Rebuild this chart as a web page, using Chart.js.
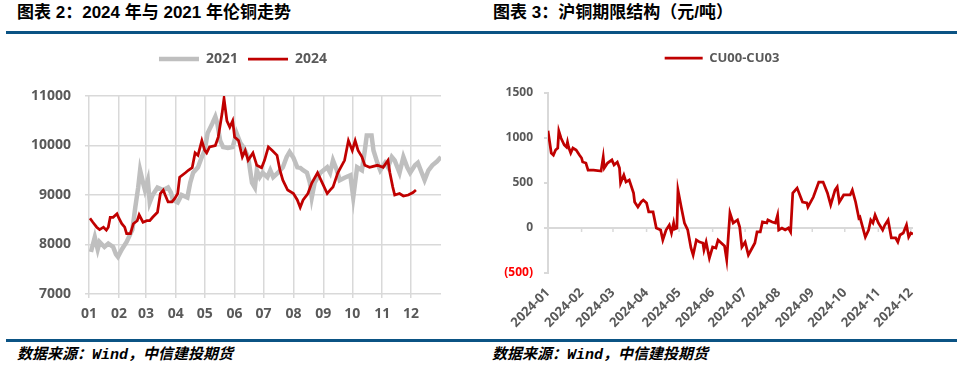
<!DOCTYPE html>
<html>
<head>
<meta charset="utf-8">
<script src="https://cdn.jsdelivr.net/npm/chart.js@4.4.1/dist/chart.umd.min.js"></script>
<style>
  body { margin: 0; width: 972px; height: 374px; background: #fff; position: relative; overflow: hidden; }
  .title { position: absolute; top: 2px; font-family: "Liberation Sans", "Noto Sans CJK SC", sans-serif; font-size: 17px; font-weight: bold; color: #000; line-height: 22px; white-space: nowrap; }
  .rule { position: absolute; height: 3px; background: #0b5384; }
  .note { position: absolute; top: 343px; font-family: "Noto Sans CJK SC", sans-serif; font-size: 15px; font-weight: bold; font-style: italic; line-height: 20px; white-space: nowrap; color: #000; }
  .note .en { font-family: "Liberation Mono", monospace; }
  canvas { position: absolute; top: 40px; }
</style>
</head>
<body>
<div class="title" style="left:17px">图表 2：2024 年与 2021 年伦铜走势</div>
<div class="title" style="left:493px">图表 3：沪铜期限结构（元/吨）</div>
<div class="rule" style="left:6px;top:31px;width:480px"></div>
<div class="rule" style="left:486px;top:31px;width:471px"></div>
<div class="rule" style="left:6px;top:339px;width:480px"></div>
<div class="rule" style="left:486px;top:339px;width:471px"></div>
<div class="note" style="left:17px">数据来源：<span class="en">Wind</span>，中信建投期货</div>
<div class="note" style="left:492px">数据来源：<span class="en">Wind</span>，中信建投期货</div>

<canvas id="lme-chart" width="486" height="290" style="left:0"></canvas>
<canvas id="spread-chart" width="472" height="298" style="left:486px"></canvas>

<script>
// ---- left chart: LME copper, 2021 vs 2024 (x = day of year) ----
const monthLabels = ['01', '02', '03', '04', '05', '06', '07', '08', '09', '10', '11', '12'];
const monthStartDays = [0, 31, 59, 90, 120, 151, 181, 212, 243, 273, 304, 334];

const days2021 = [2, 6, 9, 11, 16, 20, 25, 28, 30, 34, 39, 45, 48, 51, 53, 56, 58, 61, 63, 66,
  71, 77, 82, 85, 87, 92, 96, 102, 105, 108, 113, 117, 120, 123, 128, 131, 133, 136, 139, 144,
  149, 153, 157, 160, 165, 169, 172, 174, 177, 180, 185, 188, 191, 196, 201, 205, 208, 212, 216, 219,
  222, 226, 229, 231, 234, 240, 247, 250, 253, 257, 260, 265, 271, 274, 278, 283, 286, 288, 293, 295,
  299, 302, 307, 310, 314, 317, 322, 326, 330, 333, 338, 341, 345, 348, 352, 356, 361, 365];
const copper2021 = [7850, 8150, 7900, 8050, 7950, 8020, 7950, 7800, 7750, 7900, 8050, 8300, 8750, 9150, 9500, 9250, 9100, 9300, 8850, 9000,
  9150, 9100, 9150, 9050, 8900, 8850, 9000, 8950, 9250, 9450, 9560, 9770, 9900, 10250, 10450, 10580, 10450, 10100, 9970, 9950,
  9970, 10250, 10050, 9970, 9770, 9250, 9150, 9500, 9360, 9450, 9360, 9500, 9360, 9450, 9560, 9770, 9870, 9750, 9560, 9550,
  9500, 9450, 9250, 8950, 9250, 9450, 9560, 9450, 9700, 9500, 9300, 9350, 9400, 8950, 9560, 9500, 9900, 10200, 10200, 9900,
  9650, 9500, 9650, 9560, 9770, 9700, 9450, 9770, 9560, 9450, 9600, 9650, 9450, 9300, 9500, 9600, 9680, 9770];

const days2024 = [1, 4, 8, 11, 15, 18, 20, 22, 25, 29, 31, 34, 37, 39, 43, 46, 50, 52, 56, 60,
  63, 66, 71, 74, 77, 79, 82, 86, 89, 92, 94, 100, 103, 107, 110, 113, 117, 120, 122, 125,
  131, 134, 138, 140, 143, 146, 149, 151, 155, 159, 162, 165, 170, 174, 179, 182, 186, 190, 195, 198,
  201, 206, 212, 216, 219, 222, 227, 231, 237, 242, 247, 250, 253, 258, 265, 269, 273, 276, 279, 283,
  286, 291, 299, 305, 310, 312, 315, 317, 322, 326, 331, 336, 339];
const copper2024 = [8530, 8450, 8350, 8300, 8350, 8290, 8350, 8550, 8550, 8620, 8530, 8420, 8350, 8220, 8220, 8420, 8480, 8600, 8450, 8480,
  8480, 8550, 8650, 9030, 9100, 9000, 8860, 8860, 8930, 9030, 9360, 9450, 9500, 9550, 9850, 9800, 10100, 9900, 9850, 9970,
  10000, 10170, 10650, 10950, 10500, 10370, 10500, 10170, 10100, 9770, 9900, 9700, 9850, 9600, 9550, 9700, 9970, 9900, 9800, 9500,
  9300, 9100, 9030, 8900, 8750, 8900, 9030, 9240, 9450, 9240, 9030, 9100, 9160, 9450, 9700, 10100, 9900, 10100, 9900, 9770,
  9600, 9560, 9600, 9560, 9700, 9450, 9160, 9000, 9030, 8980, 9000, 9050, 9100];

// ---- right chart: SHFE copper CU00-CU03 spread (x = day of 2024) ----
const spreadMonthLabels = ['2024-01', '2024-02', '2024-03', '2024-04', '2024-05', '2024-06',
  '2024-07', '2024-08', '2024-09', '2024-10', '2024-11', '2024-12'];
const spreadMonthStarts = [0, 31, 60, 91, 121, 152, 182, 213, 244, 274, 305, 335];

const spreadDays = [0, 3, 5, 7, 9, 10, 12, 15, 17, 18, 19, 21, 23, 26, 29, 31, 32, 35, 37, 42,
  49, 51, 52, 55, 59, 61, 64, 66, 67, 70, 72, 75, 79, 80, 83, 86, 88, 91, 93, 97,
  100, 104, 106, 109, 112, 114, 116, 117, 119, 120, 123, 126, 129, 132, 134, 137, 140, 143, 144, 146,
  149, 152, 155, 157, 160, 163, 165, 168, 171, 175, 177, 179, 182, 185, 189, 191, 193, 196, 198, 202,
  203, 207, 210, 212, 213, 216, 219, 222, 224, 226, 230, 235, 239, 240, 245, 250, 254, 258, 261, 265,
  267, 269, 273, 279, 281, 284, 287, 288, 293, 296, 298, 300, 302, 305, 309, 311, 314, 317, 321, 323,
  325, 328, 331, 333, 335, 337];
const spreadValues = [1080, 833, 810, 867, 889, 1078, 1000, 922, 900, 956, 900, 833, 889, 867, 811, 778, 733, 722, 644, 644,
  633, 789, 667, 722, 756, 700, 733, 667, 500, 589, 511, 533, 389, 289, 233, 289, 311, 278, 178, 178,
  0, -22, -133, -22, 33, -56, 56, -11, 0, 422, 233, 56, -22, -222, -300, -133, -156, -167, -244, -156,
  -333, -211, -222, -133, -167, -200, -355, 167, 56, 89, 11, -211, -156, -300, -211, -167, -44, -44, 67, 56,
  89, 67, 56, 144, -22, 0, -22, 0, -44, 389, 444, 289, 278, 233, 344, 511, 511, 389, 256, 422,
  456, 289, 367, 367, 422, 289, 111, 122, -100, -22, 89, 56, 144, 56, -22, 33, 89, -111, -111, -156,
  -78, -56, 33, -100, -56, -67];

const LABEL_COLOR = '#595959';
const GRID_COLOR = '#d9d9d9';
Chart.defaults.font.family = '"Open Sans", "Noto Sans", sans-serif';
Chart.defaults.font.weight = 'bold';
Chart.defaults.color = LABEL_COLOR;

function zip(xs, ys) {
  return xs.map((x, i) => ({ x: x, y: ys[i] }));
}

// pushes the plot area down below the legend
function legendGap(gap) {
  return {
    id: 'legendGap',
    beforeInit(chart) {
      const fit = chart.legend.fit;
      chart.legend.fit = function () {
        fit.call(this);
        this.height += gap;
      };
    }
  };
}

// empty right-hand axis that only reserves room, so the legend stays centred on the canvas
function spacerAxis(width) {
  return {
    type: 'linear',
    position: 'right',
    grid: { display: false, drawTicks: false },
    border: { display: false },
    ticks: { display: false },
    afterFit: axis => { axis.width = width; }
  };
}

// small marks on the zero line at each month
const zeroTicks = {
  id: 'zeroTicks',
  beforeDatasetsDraw(chart) {
    const { ctx, scales } = chart;
    const y0 = scales.y.getPixelForValue(0);
    ctx.save();
    ctx.strokeStyle = GRID_COLOR;
    ctx.lineWidth = 1.5;
    scales.x.ticks.forEach(t => {
      const px = scales.x.getPixelForValue(t.value);
      ctx.beginPath();
      ctx.moveTo(px, y0);
      ctx.lineTo(px, y0 + 4);
      ctx.stroke();
    });
    ctx.restore();
  }
};

new Chart(document.getElementById('lme-chart'), {
  type: 'line',
  data: {
    datasets: [
      {
        label: '2021',
        data: zip(days2021, copper2021),
        borderColor: '#bfbfbf',
        backgroundColor: '#bfbfbf',
        borderWidth: 4.5,
        pointBorderWidth: 4.5,
        pointRadius: 0,
        tension: 0,
        order: 1
      },
      {
        label: '2024',
        data: zip(days2024, copper2024),
        borderColor: '#c00000',
        backgroundColor: '#c00000',
        borderWidth: 2.75,
        pointBorderWidth: 2.75,
        pointRadius: 0,
        tension: 0,
        order: 0
      }
    ]
  },
  plugins: [legendGap(20)],
  options: {
    responsive: false,
    animation: false,
    layout: { padding: { top: 2, right: 0, bottom: 0, left: 0 } },
    scales: {
      x: {
        type: 'linear',
        min: 0,
        max: 365,
        afterBuildTicks: axis => { axis.ticks = monthStartDays.map(v => ({ value: v })); },
        afterFit: axis => { axis.height = 36; },
        grid: { color: GRID_COLOR, lineWidth: 1.5, tickLength: 4 },
        border: { display: false },
        ticks: {
          autoSkip: false,
          maxRotation: 0,
          padding: 8,
          font: { size: 14, weight: 'bold' },
          callback: (value, index) => monthLabels[index]
        }
      },
      y: {
        min: 7000,
        max: 11000,
        afterFit: axis => { axis.width = 89; },
        grid: { color: GRID_COLOR, lineWidth: 1.5, tickLength: 4 },
        border: { display: false },
        ticks: {
          stepSize: 1000,
          padding: 14,
          font: { size: 14, weight: 'bold' },
          callback: value => String(value)
        }
      },
      pad: spacerAxis(45)
    },
    plugins: {
      legend: {
        position: 'top',
        labels: {
          usePointStyle: true,
          pointStyle: 'line',
          pointStyleWidth: 40,
          padding: 10,
          color: LABEL_COLOR,
          font: { size: 14, weight: 'bold' },
          sort: (a, b) => a.datasetIndex - b.datasetIndex
        }
      },
      tooltip: { enabled: false }
    }
  }
});

new Chart(document.getElementById('spread-chart'), {
  type: 'line',
  data: {
    datasets: [
      {
        label: 'CU00-CU03',
        data: zip(spreadDays, spreadValues),
        borderColor: '#c00000',
        backgroundColor: '#c00000',
        borderWidth: 2.75,
        pointBorderWidth: 2.75,
        pointRadius: 0,
        tension: 0
      }
    ]
  },
  plugins: [legendGap(18.5), zeroTicks],
  options: {
    responsive: false,
    animation: false,
    layout: { padding: { top: 1.5, right: 0, bottom: 0, left: 0 } },
    scales: {
      x: {
        type: 'linear',
        min: 0,
        max: 337,
        afterBuildTicks: axis => { axis.ticks = spreadMonthStarts.map(v => ({ value: v })); },
        afterFit: axis => { axis.height = 65; },
        grid: { display: false, drawTicks: false },
        border: { display: false },
        ticks: {
          autoSkip: false,
          minRotation: 45,
          maxRotation: 45,
          padding: 12,
          font: { size: 13, weight: 'bold' },
          callback: (value, index) => spreadMonthLabels[index]
        }
      },
      y: {
        min: -500,
        max: 1500,
        afterFit: axis => { axis.width = 62; },
        grid: {
          color: ctx => (ctx.tick && ctx.tick.value === 0 ? GRID_COLOR : 'rgba(0,0,0,0)'),
          tickColor: GRID_COLOR,
          lineWidth: 2,
          tickLength: 4
        },
        border: { display: true, color: GRID_COLOR, width: 2 },
        ticks: {
          stepSize: 500,
          padding: 11,
          font: { size: 12, weight: 'bold' },
          color: ctx => (ctx.tick.value < 0 ? '#ff0000' : LABEL_COLOR),
          callback: value => (value < 0 ? '(' + Math.abs(value) + ')' : String(value))
        }
      },
      pad: spacerAxis(45)
    },
    plugins: {
      legend: {
        position: 'top',
        labels: {
          usePointStyle: true,
          pointStyle: 'line',
          pointStyleWidth: 38,
          padding: 10,
          color: LABEL_COLOR,
          font: { size: 13, weight: 'bold' }
        }
      },
      tooltip: { enabled: false }
    }
  }
});
</script>
</body>
</html>
